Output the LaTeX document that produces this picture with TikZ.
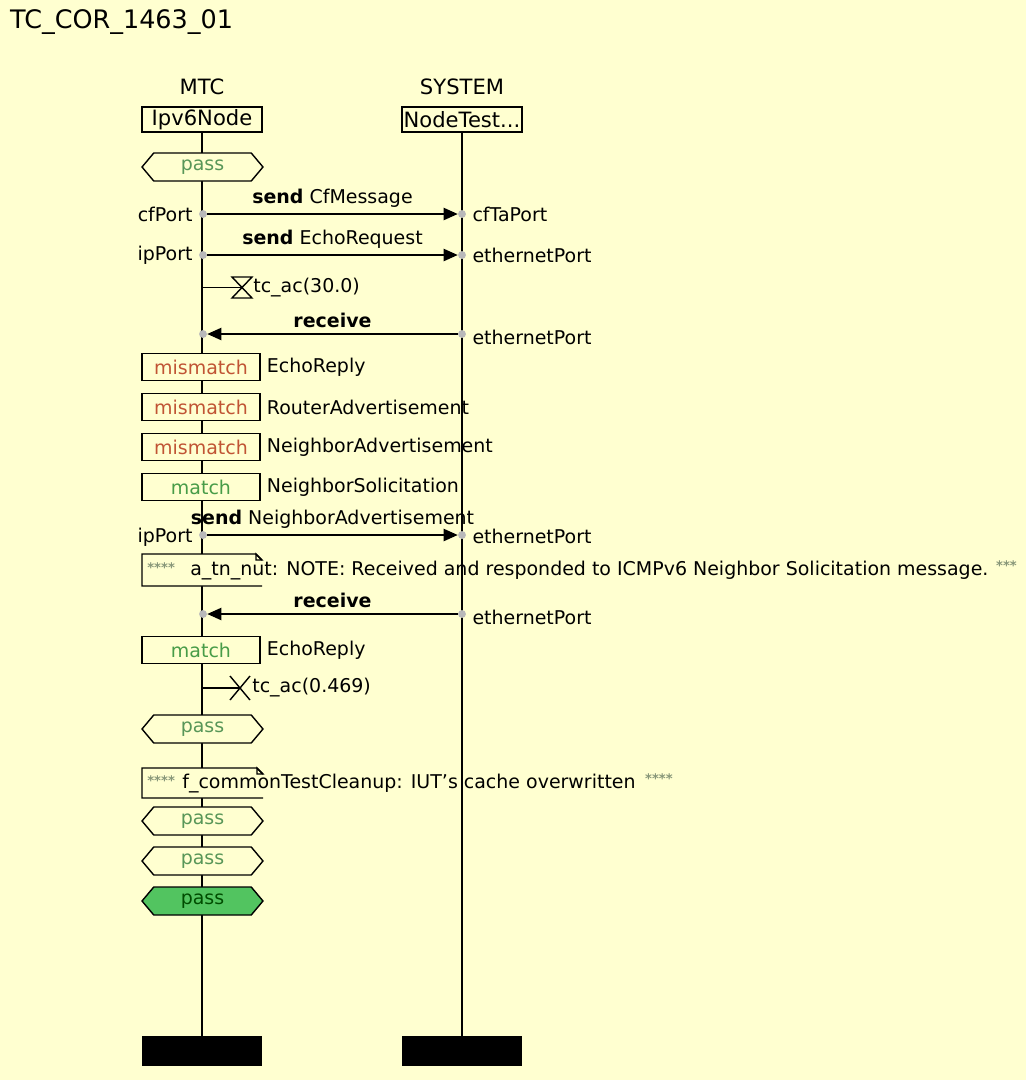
\documentclass[tikz,border=0pt]{standalone}
\usepackage{fontspec}
\setmainfont{DejaVu Sans}
\usetikzlibrary{positioning,shapes.symbols,arrows.meta}

\definecolor{bgyellow}{RGB}{255,255,208}
\definecolor{passgreen}{RGB}{88,150,88}
\definecolor{mismatchred}{RGB}{192,84,52}
\definecolor{matchgreen}{RGB}{72,156,72}
\definecolor{portgray}{RGB}{185,185,185}
\definecolor{verdictfill}{RGB}{82,196,96}
\definecolor{stargray}{RGB}{135,150,120}

\begin{document}
\begin{tikzpicture}[
    x=0.02cm, y=-0.02cm,
    font=\fontsize{10.8pt}{13pt}\selectfont,
    line/.style={line width=0.8pt},
    inst/.style={rectangle,draw,line width=0.8pt,fill=bgyellow,minimum width=2.4cm,minimum height=0.5cm,inner sep=1pt,font=\fontsize{12pt}{14pt}\selectfont},
    instlabel/.style={font=\fontsize{12pt}{14pt}\selectfont},
    endbar/.style={rectangle,fill=black,minimum width=2.4cm,minimum height=0.6cm,inner sep=0pt},
    verdict/.style={signal,signal to=west and east,signal pointer angle=100,draw,line width=0.8pt,fill=bgyellow,text=passgreen,minimum width=2.42cm,minimum height=0.56cm,inner sep=0pt},
    final/.style={verdict,fill=verdictfill,text=black!70!green},
    alt/.style={rectangle,draw,line width=0.8pt,fill=bgyellow,minimum width=2.36cm,minimum height=0.54cm,inner sep=0pt},
    port/.style={circle,fill=portgray,inner sep=0pt,minimum size=4.5pt},
    msg/.style={line,-{Triangle[length=8pt,width=7pt]}},
    note/.style={anchor=west,inner sep=0pt},
    stars/.style={note,text=stargray,font=\fontsize{7.5pt}{8pt}\bfseries}
]

\useasboundingbox (0,0) rectangle (1026,1080);
\fill[bgyellow] (0,0) rectangle (1026,1080);

% Title
\node[anchor=west,font=\fontsize{14.5pt}{17pt}\selectfont] (title) at (4,22) {TC\_COR\_1463\_01};

% Instances
\node[inst] (mtc) at (202,119.5) {Ipv6Node};
\node[inst] (sys) at (462,119.5) {NodeTest...};
\node[instlabel,above=3pt of mtc] (mtclbl) {MTC};
\node[instlabel,above=3pt of sys] (syslbl) {SYSTEM};

\node[endbar] (mtcbar) at (202,1051) {};
\node[endbar] (sysbar) at (462,1051) {};

% Lifelines
\draw[line] (mtc) -- (mtcbar);
\draw[line] (sys) -- (sysbar);

% Start verdict
\node[verdict] (v1) at (202.5,167) {pass};

% send CfMessage
\node[port] (cfPort) at (203,214) {};
\node[port] (cfTaPort) at (462,214) {};
\draw[msg] (cfPort) -- node[above] (m1lbl) {\textbf{send} CfMessage} (cfTaPort);
\node[left=0pt of cfPort] (cfPortlbl) {cfPort};
\node[right=0pt of cfTaPort] (cfTaPortlbl) {cfTaPort};

% send EchoRequest
\node[port] (ipPort1) at (203,255) {};
\node[port] (ethPort1) at (462,255) {};
\draw[msg] (ipPort1) -- node[above] (m2lbl) {\textbf{send} EchoRequest} (ethPort1);
\node[left=0pt of ipPort1] (ipPort1lbl) {ipPort};
\node[right=0pt of ethPort1] (ethPort1lbl) {ethernetPort};

% Timer start
\coordinate (t1start) at (203,287.5);
\coordinate (t1) at (242,287.5);
\draw[line] (t1start) -- (t1);
\draw[line] (t1) ++(-10,-10.5) -- ++(20,0) -- ++(-20,21) -- ++(20,0) -- cycle;
\node[note] (t1lbl) at (253,288) {tc\_ac(30.0)};

% receive
\node[port] (ethPort2) at (462,334) {};
\node[port] (ipPort2) at (203,334) {};
\draw[msg] (ethPort2) -- node[above] (m3lbl) {\textbf{receive}} (ipPort2);
\node[right=0pt of ethPort2,yshift=-2pt] (ethPort2lbl) {ethernetPort};

% Alternatives
\node[alt,text=mismatchred] (alt1) at (201,367) {mismatch};
\node[right=0pt of alt1] (alt1lbl) {EchoReply};
\node[alt,text=mismatchred] (alt2) at (201,407) {mismatch};
\node[right=0pt of alt2] (alt2lbl) {RouterAdvertisement};
\node[alt,text=mismatchred] (alt3) at (201,447) {mismatch};
\node[right=0pt of alt3] (alt3lbl) {NeighborAdvertisement};
\node[alt,text=matchgreen] (alt4) at (201,487) {match};
\node[right=0pt of alt4] (alt4lbl) {NeighborSolicitation};

% send NeighborAdvertisement
\node[port] (ipPort3) at (203,535) {};
\node[port] (ethPort3) at (462,535) {};
\draw[msg] (ipPort3) -- node[above] (m4lbl) {\textbf{send} NeighborAdvertisement} (ethPort3);
\node[left=0pt of ipPort3,yshift=-1pt] (ipPort3lbl) {ipPort};
\node[right=0pt of ethPort3,yshift=-1pt] (ethPort3lbl) {ethernetPort};

% Log note
\draw[line,fill=bgyellow] (262,586) -- (142,586) -- (142,554) -- (256,554) -- (262,560);
\draw[line] (256,554) -- (262,560) -- (256,560) -- cycle;
\node[stars] (note1st) at (147,568) {****};
\node[note] (note1) at (190,571) {a\_tn\_nut: NOTE: Received and responded to ICMPv6 Neighbor Solicitation message.};
\node[stars,right=4pt of note1,yshift=3pt] (note1end) {***};

% receive
\node[port] (ethPort4) at (462,614) {};
\node[port] (ipPort4) at (203,614) {};
\draw[msg] (ethPort4) -- node[above] (m5lbl) {\textbf{receive}} (ipPort4);
\node[right=0pt of ethPort4,yshift=-2pt] (ethPort4lbl) {ethernetPort};

\node[alt,text=matchgreen] (alt5) at (201,650) {match};
\node[right=0pt of alt5] (alt5lbl) {EchoReply};

% Timer stop
\coordinate (t2start) at (203,688);
\coordinate (t2) at (240,688);
\draw[line] (t2start) -- (t2);
\draw[line] (t2) ++(-10,-12) -- ++(20,24) (t2) ++(10,-12) -- ++(-20,24);
\node[note] (t2lbl) at (252,688) {tc\_ac(0.469)};

% Verdicts and cleanup
\node[verdict] (v2) at (202.5,729) {pass};

\draw[line,fill=bgyellow] (263,798) -- (142,798) -- (142,768) -- (257,768) -- (263,774);
\draw[line] (257,768) -- (263,774) -- (257,774) -- cycle;
\node[stars] (note2st) at (147,781) {****};
\node[note] (note2) at (182,784) {f\_commonTestCleanup: IUT's cache overwritten};
\node[stars,right=5pt of note2,yshift=3pt] (note2end) {****};

\node[verdict] (v3) at (202.5,821) {pass};
\node[verdict] (v4) at (202.5,861) {pass};
\node[final] (v5) at (202.5,901) {pass};

\end{tikzpicture}
\end{document}
